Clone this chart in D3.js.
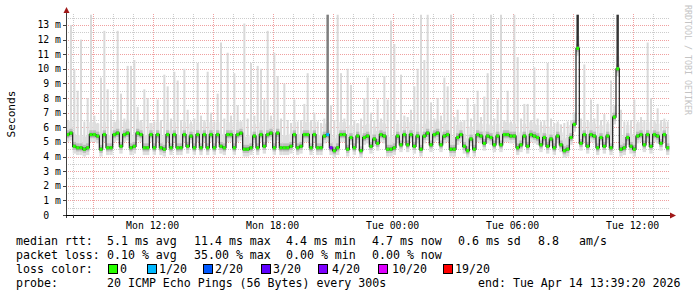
<!DOCTYPE html>
<html>
<head>
<meta charset="utf-8">
<script src="https://cdn.jsdelivr.net/npm/d3@7"></script>
<style>
body { margin: 0; background: #fff; }
svg text { font-family: "DejaVu Sans Mono", monospace; white-space: pre; }
</style>
</head>
<body>
<svg id="chart" width="697" height="297"></svg>
<script>
// 10 minute bins, Mon 07:40 -> Tue 13:40
const startTime = new Date(2026, 3, 13, 7, 40);
const endTime = new Date(2026, 3, 14, 13, 40);
const stepMin = 10;

// median rtt per bin (ms)
const medianMs = [
  5.5,5.6,4.7,4.6,4.6,4.5,4.6,5.5,5.5,5.4,
  4.5,5.5,4.6,4.6,5.5,5.6,4.7,5.5,5.6,4.6,
  4.7,5.6,5.5,4.6,4.6,5.5,4.6,5.5,4.6,4.5,
  5.5,4.6,5.5,4.6,4.6,5.5,4.7,5.4,4.6,5.5,
  4.6,5.5,4.6,5.5,4.6,
  5.5,4.7,4.6,5.5,5.5,4.6,5.5,5.6,4.5,4.5,
  4.6,5.4,4.6,5.5,4.7,5.5,5.6,4.6,5.6,4.6,
  4.6,4.6,4.7,5.5,4.6,4.7,5.5,5.5,4.6,5.5,
  4.6,4.6,5.4,5.5,4.6,4.4,4.6,5.5,5.5,4.5,
  5.3,4.6,5.4,4.4,5.3,
  5.4,4.7,5.2,4.9,5.5,5.4,4.5,4.5,4.6,5.4,
  4.8,5.5,4.8,5.5,4.7,5.4,4.5,5.4,5.6,4.8,
  5.5,5.6,4.8,5.4,5.5,4.5,4.5,5.3,5.5,4.7,
  4.4,5.2,4.5,5.5,5.4,4.9,5.4,5.3,4.8,5.4,
  4.8,5.5,5.5,5.4,
  5.4,4.6,4.8,5.4,4.7,5.5,5.4,5.3,4.8,5.3,
  4.7,5.2,4.6,5.4,4.8,4.4,4.5,5.3,6.2,11.4,
  4.9,5.5,4.7,5.5,5.4,4.6,5.3,4.7,5.4,4.6,
  6.7,10.0,4.5,4.6,5.3,4.7,4.5,5.4,5.5,4.8,
  5.5,4.7,5.5,5.4,4.9,5.5,4.6
];

// slowest ping per bin (ms), the light smoke
const smokeMaxMs = [
  6.5,13.0,10.0,8.5,12.0,6.4,8.0,13.7,6.8,6.3,
  9.4,12.6,8.6,7.2,6.4,12.6,8.3,6.6,10.2,10.2,
  10.6,7.4,6.5,8.6,8.0,6.3,6.4,7.9,6.5,9.6,
  8.8,6.6,9.8,9.2,6.5,10.0,7.2,6.4,6.6,10.4,
  6.8,6.5,9.8,7.0,6.4,8.3,11.8,6.6,11.1,6.8,
  9.7,7.5,6.4,13.1,6.6,10.4,6.8,10.2,10.0,7.9,
  12.6,6.8,11.1,9.5,6.6,9.0,6.5,6.3,7.9,6.4,
  6.5,7.6,9.7,6.5,7.0,6.4,6.3,6.6,13.7,7.5,
  6.5,13.7,9.7,6.6,10.0,8.9,6.5,6.3,6.6,8.0,
  9.4,7.0,6.5,7.9,6.6,9.5,7.9,13.3,11.7,6.5,
  9.6,6.8,6.7,7.2,8.8,10.0,13.7,10.6,13.7,7.7,
  6.6,8.0,6.8,9.4,8.8,13.7,6.7,7.2,6.4,6.5,
  8.0,6.6,7.6,8.5,6.7,8.1,9.7,13.7,6.6,7.9,
  13.7,6.5,8.5,6.4,13.7,10.8,6.6,7.6,7.6,6.5,
  10.1,6.6,6.4,6.5,10.4,6.6,6.3,6.4,6.2,6.3,
  6.4,6.5,7.0,13.7,6.6,10.3,6.5,7.9,6.6,7.6,
  6.5,6.9,6.4,9.2,7.5,13.7,7.2,6.4,6.4,6.5,
  7.9,6.4,6.7,6.5,11.8,8.0,6.5,7.3,6.5,6.6,
  6.4
];

// bins where most pings were slow (dark smoke)
const denseBins = [78, 153, 165];
const denseShare = [0.35, 0.9, 0.85];

// bins with packet loss (lost pings out of 20)
const lossBins = [78, 79];
const lossCount = [1, 7];

const lossLabels = ["0", "1/20", "2/20", "3/20", "4/20", "10/20", "19/20"];
const lossFrom = [0, 1, 2, 3, 4, 10, 19];
const lossColors = ["#26ff00", "#00b8ff", "#0059ff", "#5e00ff", "#7e00ff", "#dd00ff", "#ff0000"];

const rttStats = [["median rtt:", 16], ["5.1 ms avg", 107], ["11.4 ms max", 194], ["4.4 ms min", 286], ["4.7 ms now", 372], ["0.6 ms sd", 458], ["8.8", 538], ["am/s", 579]];
const lossStats = [["packet loss:", 16], ["0.10 % avg", 107], ["35.00 % max", 194], ["0.00 % min", 286], ["0.00 % now", 372]];
const probeLine = [["probe:", 16], ["20 ICMP Echo Pings (56 Bytes) every 300s", 107], ["end: Tue Apr 14 13:39:20 2026", 478]];
const swatchX = [108, 147, 203, 261, 318, 378, 443];
const swatchTextX = [120, 159, 215, 273, 332, 392, 455];

const svg = d3.select("#chart");
const plotLeft = 66, plotRight = 666, plotBottom = 215, plotTop = 14;

const x = d3.scaleTime().domain([startTime, endTime]).range([plotLeft, plotRight]);
const y = d3.scaleLinear().domain([0, 13.75]).range([plotBottom, plotTop]);
const binW = x(d3.timeMinute.offset(startTime, stepMin)) - x(startTime);

const lossColor = d3.scaleThreshold().domain(lossFrom.slice(1)).range(lossColors);
const denseGray = d3.scaleLinear().domain([0, 1]).range(["#b0b0b0", "#202020"]);

const data = medianMs.map((v, i) => ({
  i: i,
  t: d3.timeMinute.offset(startTime, i * stepMin),
  med: v,
  hi: smokeMaxMs[i],
  loss: 0
}));
lossBins.forEach((b, k) => { data[b].loss = lossCount[k]; });

// grid (under the data)
const grid = svg.append("g").attr("stroke-dasharray", "1,1").attr("stroke-width", 1);
const hLines = d3.range(1, 28).map(k => k / 2);
grid.selectAll("line.h").data(hLines).enter().append("line")
  .attr("x1", plotLeft).attr("x2", 669)
  .attr("y1", d => Math.round(y(d)) + 0.5).attr("y2", d => Math.round(y(d)) + 0.5)
  .attr("stroke", d => Number.isInteger(d) ? "#f0a0a0" : "#cccccc");
const hours = d3.timeHour.range(d3.timeHour.ceil(startTime), d3.timeHour.offset(endTime, 1))
  .filter(t => x(t) <= 669);
grid.selectAll("line.v").data(hours).enter().append("line")
  .attr("x1", d => Math.round(x(d)) + 0.5).attr("x2", d => Math.round(x(d)) + 0.5)
  .attr("y1", plotBottom).attr("y2", plotTop)
  .attr("stroke", d => d.getHours() % 3 === 0 ? "#f0a0a0" : "#cccccc");

// smoke
const smoke = svg.append("g");
smoke.selectAll("rect.spike").data(data).enter().append("rect")
  .attr("x", d => x(d.t) + binW / 2 - 1)
  .attr("width", 2)
  .attr("y", d => y(d.hi))
  .attr("height", d => y(d.med) - y(d.hi))
  .attr("fill", "#d9d9d9");
smoke.selectAll("rect.base").data(data).enter().append("rect")
  .attr("x", d => x(d.t))
  .attr("width", binW)
  .attr("y", d => y(Math.min(d.med + 0.85, d.hi)))
  .attr("height", d => y(d.med - 0.5) - y(Math.min(d.med + 0.85, d.hi)))
  .attr("fill", "#dedede");
smoke.selectAll("rect.mid").data(data).enter().append("rect")
  .attr("x", d => x(d.t))
  .attr("width", binW)
  .attr("y", d => y(d.med + 0.3))
  .attr("height", d => y(d.med - 0.25) - y(d.med + 0.3))
  .attr("fill", "#bcbcbc");
smoke.selectAll("rect.dense").data(denseBins).enter().append("rect")
  .attr("x", b => x(data[b].t) + binW / 2 - 1.2)
  .attr("width", 2.4)
  .attr("y", b => y(data[b].hi))
  .attr("height", b => y(data[b].med) - y(data[b].hi))
  .attr("fill", (b, k) => denseGray(denseShare[k]));
smoke.selectAll("rect.core").data(data).enter().append("rect")
  .attr("x", d => x(d.t))
  .attr("width", binW)
  .attr("y", d => y(d.med + 0.12))
  .attr("height", d => y(d.med - 0.12) - y(d.med + 0.12))
  .attr("fill", "#7a7a7a");

// median line + loss colour
const line = d3.line()
  .x(d => x(d.t) + binW / 2)
  .y(d => y(d.med))
  .curve(d3.curveStep);
svg.append("path").datum(data)
  .attr("d", line)
  .attr("fill", "none")
  .attr("stroke", "#202020")
  .attr("stroke-width", 1.2);
svg.append("g").selectAll("rect").data(data).enter().append("rect")
  .attr("x", d => x(d.t) + binW / 2 - 1.5)
  .attr("width", 3)
  .attr("y", d => y(d.med) - 1.5)
  .attr("height", 3)
  .attr("fill", d => lossColor(d.loss));

// axes
const axes = svg.append("g");
axes.append("line").attr("x1", plotLeft + 0.5).attr("x2", plotLeft + 0.5).attr("y1", plotBottom + 3).attr("y2", 12)
  .attr("stroke", "#404040");
axes.append("path").attr("d", `M${plotLeft - 2.5},13 L${plotLeft + 0.5},7 L${plotLeft + 3.5},13 Z`).attr("fill", "#a01818");
axes.append("line").attr("x1", plotLeft - 3).attr("x2", 670).attr("y1", plotBottom + 0.5).attr("y2", plotBottom + 0.5)
  .attr("stroke", "#000");
axes.append("path").attr("d", `M670,${plotBottom - 2.5} L676,${plotBottom + 0.5} L670,${plotBottom + 3.5} Z`).attr("fill", "#a01818");

const yTicks = d3.range(0, 14);
axes.selectAll("line.yt").data(yTicks).enter().append("line")
  .attr("x1", plotLeft - 3).attr("x2", plotLeft)
  .attr("y1", d => Math.round(y(d)) + 0.5).attr("y2", d => Math.round(y(d)) + 0.5)
  .attr("stroke", "#404040");
axes.selectAll("text.yl").data(yTicks).enter().append("text")
  .attr("x", 61)
  .attr("y", d => y(d) + 3.5)
  .attr("text-anchor", "end")
  .attr("font-size", "9.8px")
  .attr("fill", "#000")
  .text(d => d === 0 ? "0\u00a0\u00a0" : d + " m");

axes.selectAll("line.xt").data(hours).enter().append("line")
  .attr("x1", d => Math.round(x(d)) + 0.5).attr("x2", d => Math.round(x(d)) + 0.5)
  .attr("y1", plotBottom).attr("y2", plotBottom + 3)
  .attr("stroke", "#404040");
const labelHours = hours.filter(t => t.getHours() % 6 === 0);
const fmt = d3.timeFormat("%a %H:%M");
axes.selectAll("text.xl").data(labelHours).enter().append("text")
  .attr("x", d => x(d))
  .attr("y", 229)
  .attr("text-anchor", "middle")
  .attr("font-size", "9.8px")
  .text(d => fmt(d));

svg.append("text")
  .attr("transform", "translate(15,114) rotate(-90)")
  .attr("text-anchor", "middle")
  .attr("font-size", "11.2px")
  .text("Seconds");

svg.append("text")
  .attr("transform", "translate(685,5) rotate(90)")
  .attr("font-size", "8.3px")
  .attr("fill", "#c4c4c4")
  .text("RRDTOOL / TOBI OETIKER");

// legend
const legend = svg.append("g").attr("font-size", "11.6px").attr("fill", "#000");
function legendRow(items, yy) {
  legend.selectAll(null).data(items).enter().append("text")
    .attr("x", d => d[1]).attr("y", yy).text(d => d[0]);
}
legendRow(rttStats, 244.5);
legendRow(lossStats, 258.7);
legendRow([["loss color:", 16]], 273);
legend.selectAll("rect").data(lossColors).enter().append("rect")
  .attr("x", (c, k) => swatchX[k] + 0.5).attr("y", 264.5)
  .attr("width", 9).attr("height", 9)
  .attr("fill", c => c).attr("stroke", "#000");
legend.selectAll("text.ll").data(lossLabels).enter().append("text")
  .attr("x", (l, k) => swatchTextX[k]).attr("y", 273)
  .text(l => l);
legendRow(probeLine, 287.2);
</script>
</body>
</html>
